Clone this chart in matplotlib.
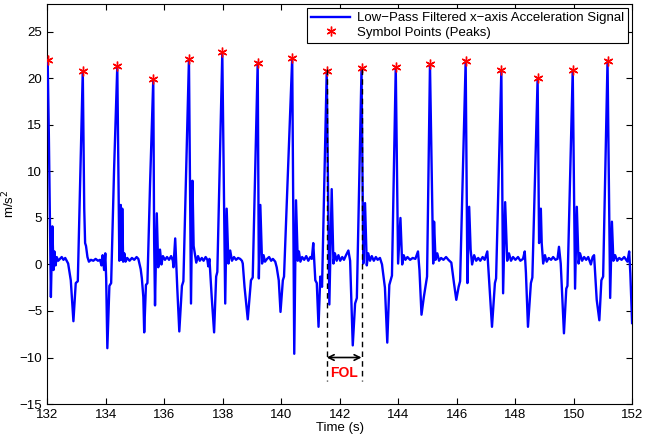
import matplotlib
matplotlib.use("Agg")
import matplotlib.pyplot as plt

# ---- data ----
sig_t = [
    132.00, 132.02, 132.06, 132.13, 132.18, 132.22, 132.25, 132.29, 132.33, 132.38,
    132.44, 132.50, 132.56, 132.62, 132.67, 132.72, 132.81, 132.90, 132.98, 133.05,
    133.22, 133.27, 133.30, 133.33, 133.38, 133.43, 133.50, 133.58, 133.66, 133.74,
    133.81, 133.86, 133.90, 133.95, 133.99, 134.02, 134.06, 134.13, 134.19, 134.29,
    134.40, 134.47, 134.52, 134.55, 134.57, 134.60, 134.64, 134.68, 134.74, 134.82,
    134.90, 134.98, 135.06, 135.12, 135.20, 135.24, 135.29, 135.32, 135.38, 135.43,
    135.52, 135.63, 135.66, 135.69, 135.75, 135.80, 135.86, 135.91, 135.96, 136.03,
    136.10, 136.17, 136.24, 136.30, 136.32, 136.38, 136.45, 136.52, 136.61, 136.66,
    136.85, 136.92, 136.97, 137.01, 137.06, 137.10, 137.16, 137.22, 137.29, 137.35,
    137.42, 137.48, 137.51, 137.55, 137.63, 137.71, 137.78, 137.82,
    137.99, 138.09, 138.14, 138.20, 138.26, 138.32, 138.39, 138.46, 138.53, 138.60,
    138.66, 138.69, 138.75, 138.86, 138.97, 139.03,
    139.20, 139.24, 139.29, 139.35, 139.40, 139.45, 139.52, 139.59, 139.66, 139.72,
    139.80, 139.85, 139.92, 139.98, 140.06, 140.10,
    140.38, 140.45, 140.51, 140.57, 140.61, 140.66, 140.72, 140.79, 140.86, 140.93,
    141.00, 141.05, 141.10, 141.17, 141.22, 141.28, 141.34, 141.40,
    141.56, 141.65, 141.73, 141.79, 141.84, 141.90, 141.96, 142.02, 142.09, 142.15,
    142.22, 142.30, 142.36, 142.45, 142.53, 142.59,
    142.75, 142.81, 142.87, 142.93, 142.98, 143.04, 143.10, 143.17, 143.24, 143.30,
    143.38, 143.45, 143.55, 143.63, 143.70, 143.79,
    143.92, 144.00, 144.08, 144.14, 144.19, 144.25, 144.32, 144.41, 144.50, 144.59,
    144.68, 144.73, 144.80, 144.88, 144.99,
    145.09, 145.20, 145.23, 145.28, 145.34, 145.40, 145.47, 145.55, 145.64, 145.72,
    145.82, 145.91, 145.99, 146.07, 146.12,
    146.31, 146.37, 146.43, 146.48, 146.53, 146.60, 146.67, 146.74, 146.81, 146.89,
    146.96, 147.05, 147.13, 147.21, 147.31, 147.35,
    147.53, 147.59, 147.66, 147.73, 147.79, 147.86, 147.93, 148.01, 148.10, 148.18,
    148.27, 148.33, 148.37, 148.44, 148.54, 148.59,
    148.77, 148.82, 148.88, 148.91, 148.96, 149.02, 149.08, 149.15, 149.23, 149.30,
    149.38, 149.45, 149.50, 149.56, 149.67, 149.75, 149.79,
    149.97, 150.05, 150.11, 150.17, 150.22, 150.29, 150.36, 150.43, 150.50, 150.59,
    150.65, 150.70, 150.79, 150.88, 150.95, 151.01,
    151.16, 151.25, 151.31, 151.36, 151.42, 151.49, 151.56, 151.64, 151.73, 151.84,
    151.90, 151.94, 152.00,
]
sig_v = [
    20.5, 22.0, 14.0, -3.5, 4.1, -0.6, 1.4, -0.1, 0.8, 0.4,
    0.6, 0.8, 0.5, 0.7, 0.4, 0.1, -1.7, -6.1, -2.0, -1.8,
    20.8, 6.0, 2.3, 2.0, 0.8, 0.3, 0.5, 0.4, 0.6, 0.4,
    0.5, -0.1, 1.0, -0.6, 1.2, -1.5, -9.0, -2.3, -2.0, 10.2,
    21.3, 0.4, 6.4, 0.5, 6.0, 0.3, 1.2, 0.3, 0.7, 0.4,
    0.7, 0.5, 0.8, 0.6, -0.5, -1.5, -3.5, -7.3, -2.2, -2.0,
    8.6, 19.9, 2.6, -4.4, 5.5, -0.3, 1.6, 0.0, 0.9, 0.5,
    0.8, 0.5, 0.9, 0.4, -0.3, 2.8, -2.5, -7.2, -2.3, -1.8,
    22.1, -4.2, 9.0, 2.0, 1.0, 0.2, 0.9, 0.4, 0.7, 0.4,
    0.8, 0.5, -0.2, 0.6, -3.6, -7.3, -1.3, -0.8,
    22.8, -4.2, 6.0, 0.1, 1.5, 0.4, 0.8, 0.5, 0.7, 0.6,
    0.4, 0.1, -2.4, -5.9, -1.7, -1.4,
    21.7, -1.5, 6.4, 0.1, 1.0, 0.3, 0.6, 0.8, 0.4, 0.6,
    0.3, -0.3, -1.7, -5.1, -1.7, -1.3,
    22.2, -9.6, 6.9, 0.4, 1.4, 0.3, 0.8, 0.5, 0.9, 0.4,
    0.8, 0.6, 2.3, -1.7, -2.0, -6.7, -1.3, -2.4,
    20.8, -4.3, 8.1, 0.1, 1.2, 0.4, 1.0, 0.4, 0.8, 0.5,
    1.0, 1.5, 0.4, -8.7, -4.2, -3.6,
    21.1, 0.1, 6.6, -0.1, 1.2, 0.4, 0.9, 0.4, 0.8, 0.5,
    0.7, 0.0, -2.5, -8.4, -2.2, -1.2,
    21.2, 0.1, 5.0, 0.0, 1.0, 0.5, 0.8, 0.5, 0.7, 0.6,
    1.4, -0.6, -5.4, -3.5, -1.3,
    21.5, 0.1, 4.6, 0.5, 1.2, 0.4, 0.7, 0.5, 0.8, 0.5,
    0.2, -2.0, -3.8, -2.4, -1.8,
    21.9, -2.0, 6.2, 1.6, 0.0, 1.0, 0.4, 0.7, 0.4, 0.8,
    0.5, 1.4, -2.6, -6.7, -2.0, -1.5,
    20.9, -3.1, 6.7, 0.4, 1.2, 0.4, 0.8, 0.5, 0.8, 0.4,
    0.6, 1.4, -0.9, -6.7, -2.0, -1.4,
    20.0, 2.3, 6.0, 2.3, 0.1, 1.0, 0.3, 0.7, 0.5, 0.8,
    0.5, 0.6, 1.9, 0.1, -7.4, -2.6, -2.3,
    20.9, -2.6, 6.2, 0.1, 1.2, 0.4, 0.8, 0.5, 0.8, 0.0,
    0.8, 1.0, -3.8, -6.0, -1.7, -1.3,
    21.9, -3.6, 4.6, 0.4, 1.0, 0.4, 0.7, 0.5, 0.8, 0.3,
    1.4, -1.0, -6.3,
]

peak_t = [132.02, 133.22, 134.40, 135.63, 136.85, 137.99, 139.20, 140.38, 141.56,
          142.75, 143.92, 145.09, 146.31, 147.53, 148.77, 149.97, 151.16]
peak_v = [22.0, 20.8, 21.3, 19.9, 22.1, 22.8, 21.7, 22.2, 20.8,
          21.1, 21.2, 21.5, 21.9, 20.9, 20.0, 20.9, 21.9]

fol_start = 141.56
fol_end = 142.75
fol_top = 21.0
fol_bottom = -12.5
fol_arrow_y = -10.0
fol_text_y = -11.7

x_ticks = [132, 134, 136, 138, 140, 142, 144, 146, 148, 150, 152]
y_ticks = [-15, -10, -5, 0, 5, 10, 15, 20, 25]

line_label = "Low\u2212Pass Filtered x\u2212axis Acceleration Signal"
peak_label = "Symbol Points (Peaks)"

# ---- figure ----
plt.rcParams['font.family'] = ['Liberation Sans', 'DejaVu Sans']
fig = plt.figure(figsize=(6.45, 4.43), dpi=100)
ax = fig.add_axes([0.073, 0.088, 0.907, 0.903])

ax.plot(sig_t, sig_v, color=(0, 0, 1), lw=1.7, label=line_label, zorder=3)
ax.plot(peak_t, peak_v, linestyle='none', marker=(6, 2, 0), markersize=7,
        markeredgecolor='red', markerfacecolor='red', markeredgewidth=1.0,
        label=peak_label, zorder=4)

for xv in (fol_start, fol_end):
    ax.plot([xv, xv], [fol_top, fol_bottom], color='black', lw=1.0,
            linestyle=(0, (4, 3)), zorder=5)
ax.annotate('', xy=(fol_start, fol_arrow_y), xytext=(fol_end, fol_arrow_y),
            arrowprops=dict(arrowstyle='<->', color='black', lw=1.2,
                            shrinkA=0, shrinkB=0, mutation_scale=10), zorder=6)
ax.text((fol_start + fol_end) / 2, fol_text_y, 'FOL', color='red',
        fontweight='bold', fontsize=10, ha='center', va='center', zorder=6)

ax.set_xlim(132, 152)
ax.set_ylim(-15, 28)
ax.set_xticks(x_ticks)
ax.set_yticks(y_ticks)
ax.tick_params(direction='in', top=True, right=True, labelsize=9.5,
               length=4, width=0.8)
for s in ax.spines.values():
    s.set_linewidth(0.8)
ax.set_xlabel('Time (s)', fontsize=9.5, labelpad=1)
ax.set_ylabel('m/s$^2$', fontsize=9.5, labelpad=2)

leg = ax.legend(loc='upper right', fontsize=9.5, frameon=True, fancybox=False,
                borderaxespad=0.3, handlelength=3.0, borderpad=0.3,
                labelspacing=0.2, handletextpad=0.5)
leg.get_frame().set_edgecolor('black')
leg.get_frame().set_linewidth(0.8)
leg.get_frame().set_alpha(1.0)

fig.savefig('out.png', dpi=100)
